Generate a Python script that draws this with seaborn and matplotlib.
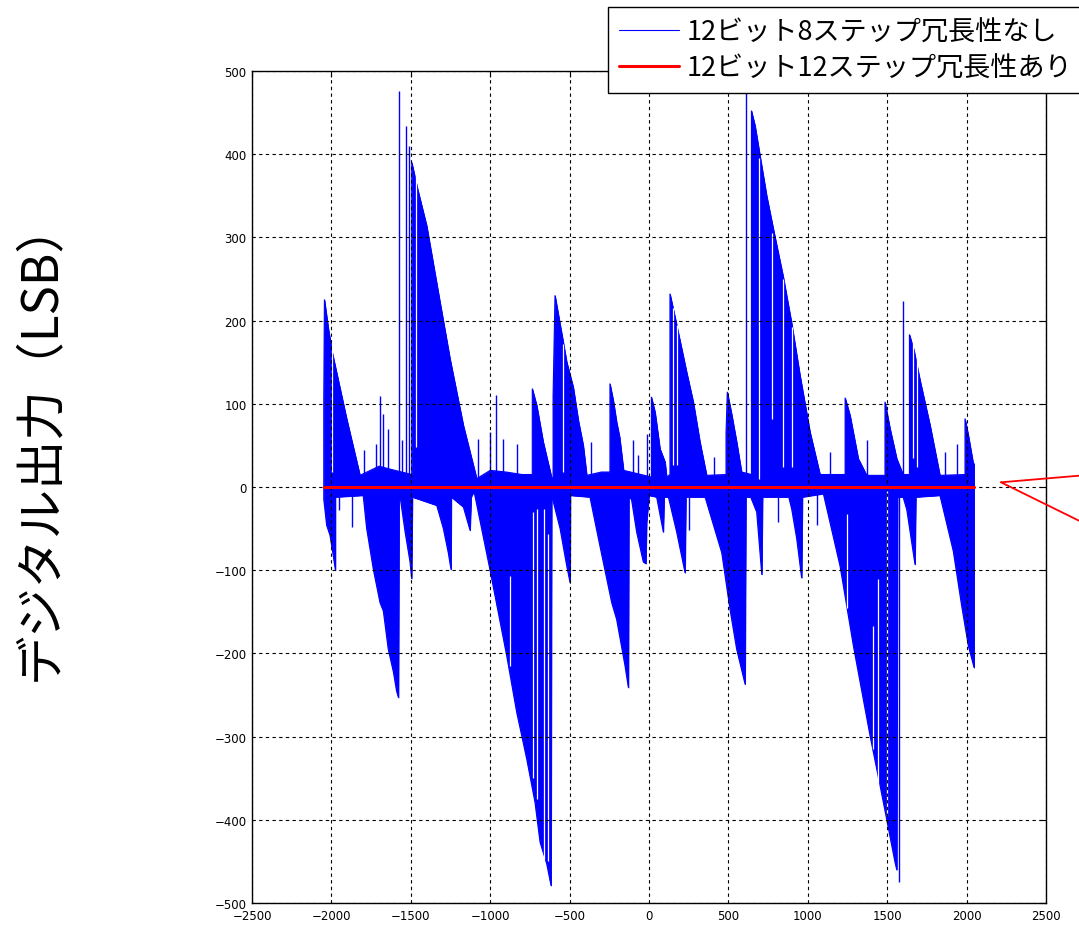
import numpy as np
import matplotlib
matplotlib.use("Agg")
import matplotlib.pyplot as plt
from matplotlib.lines import Line2D
import seaborn as sns

# Upper envelope of the 8-step (no redundancy) error (code, LSB)
upper_x = [-2048, -2048, -2044, -2019, -1995, -1904, -1820,
           -1700, -1600, -1494, -1494, -1457, -1400, -1327, -1253, -1169, -1085,
           -1000, -900, -800, -735, -735, -707, -666, -613,
           -604, -604, -592, -540, -518, -477, -445, -414, -392,
           -300, -246, -246, -225, -204, -185, -160,
           -50, 15, 15, 38, 69, 101, 111,
           132, 132, 164, 195, 237, 279, 321, 363,
           485, 485, 493, 520, 552, 583,
           645, 645, 668, 699, 741, 783, 846, 899, 951, 1014, 1077,
           1235, 1235, 1266, 1318, 1371,
           1486, 1486, 1518, 1560, 1600,
           1640, 1640, 1669, 1707, 1770, 1832,
           1990, 1990, 2011, 2042, 2047, 2047]
upper_y = [0, 105, 225, 190, 162, 82, 14,
           25, 20, 15, 390, 358, 314, 234, 154, 74, 10,
           20, 18, 15, 15, 118, 98, 54, 11,
           12, 109, 230, 174, 150, 120, 80, 50, 14,
           18, 18, 124, 104, 78, 60, 20,
           15, 12, 108, 90, 46, 30, 12,
           15, 232, 204, 176, 138, 102, 54, 14,
           15, 64, 114, 88, 54, 18,
           15, 452, 434, 398, 350, 310, 252, 196, 134, 66, 15,
           15, 107, 86, 34, 14,
           14, 102, 70, 34, 15,
           15, 183, 164, 128, 74, 14,
           15, 82, 62, 28, 28, 0]

# Lower envelope
lower_x = [-2048, -2048, -2030, -2009, -1988, -1975, -1975,
           -1800, -1778, -1736, -1694, -1673, -1642, -1610, -1590, -1578, -1574,
           -1565, -1536, -1505, -1495, -1490,
           -1337, -1295, -1264, -1247, -1245,
           -1169, -1127, -1120,
           -1102, -1001, -896, -833, -770, -718, -686, -644, -617, -613,
           -560, -518, -497, -495,
           -372, -309, -235, -204, -151, -130, -127,
           -110, -78, -36, -20, -15, 0,
           48, 90, 95, 122, 174, 227, 232,
           353, 458, 510, 552, 605, 610,
           640, 678, 710, 715,
           880, 899, 930, 961, 966,
           1098, 1203, 1287, 1392, 1455, 1486, 1549, 1560, 1565,
           1600, 1623, 1675, 1680,
           1832, 1916, 1969, 2011, 2047, 2047]
lower_y = [0, -15, -46, -58, -83, -100, -12,
           -10, -50, -99, -139, -149, -195, -222, -245, -253, -12,
           -15, -54, -90, -110, -12,
           -22, -50, -79, -99, -12,
           -24, -52, -12,
           -5, -100, -203, -271, -327, -379, -427, -453, -479, -10,
           -50, -95, -115, -10,
           -12, -71, -139, -159, -215, -241, -12,
           -15, -54, -90, -92, -42, -10,
           -12, -54, -12, -12, -54, -103, -12,
           -12, -79, -147, -195, -237, -12,
           -12, -30, -105, -12,
           -12, -27, -62, -109, -12,
           -8, -95, -191, -299, -359, -389, -451, -460, -12,
           -12, -27, -93, -12,
           -10, -77, -143, -191, -217, 0]

# Isolated single-code spikes (code, peak LSB)
spike_x = [-1795, -1719, -1694, -1673, -1646, -1576, -1557, -1532, -1511,
           -1075, -1001, -963, -917, -829, -366, -99, -67, -14,
           409, 611, 1140, 1371, 1601, 1864, 1937,
           -1950, -1872, 255, 814, 1056, 1576]
spike_y = [44, 52, 109, 88, 70, 476, 56, 434, 410,
           58, 66, 110, 58, 52, 54, 57, 39, 64,
           36, 476, 42, 56, 223, 42, 52,
           -28, -48, -52, -42, -46, -475]

# Codes where the dense trace leaves a visible gap (code, from, to)
gap_x = [-1998, -1467, -544, 149, 174, 693, 776, 842, 899, 1660, 1686,
         -875, -733, -707, -661, -638, 1245, 1413, 1444, 1497]
gap_lo = [18, 48, 18, 26, 26, 10, 82, 24, 24, 35, 24,
          -215, -350, -375, -448, -450, -145, -315, -370, -395]
gap_hi = [170, 375, 172, 215, 195, 395, 305, 250, 192, 180, 160,
          -107, -30, -27, -27, -57, -32, -167, -111, -5]

# 12-step redundant version: flat at zero
red_x = [-2048, 2047]
red_y = [0, 0]

labels = ["12ビット8ステップ冗長性なし", "12ビット12ステップ冗長性あり"]
xticks = [-2500, -2000, -1500, -1000, -500, 0, 500, 1000, 1500, 2000, 2500]
yticks = [-500, -400, -300, -200, -100, 0, 100, 200, 300, 400, 500]

sns.set_style("white")
plt.rcParams['font.family'] = ['Noto Sans CJK JP', 'DejaVu Sans']
plt.rcParams['text.color'] = 'black'
plt.rcParams['xtick.color'] = 'black'
plt.rcParams['ytick.color'] = 'black'

W, H = 1079, 928
fig = plt.figure(figsize=(W / 100, H / 100), dpi=100)
ax = fig.add_axes([252 / W, 1 - 904 / H, (1046 - 252) / W, (904 - 72) / H])

blue = (0, 0, 1)
ax.fill_between(upper_x, 0, upper_y, color=blue, lw=0.6, zorder=1)
ax.fill_between(lower_x, lower_y, 0, color=blue, lw=0.6, zorder=1)
ax.vlines(spike_x, 0, spike_y, color=blue, lw=1.0, zorder=1.2)
ax.vlines(gap_x, gap_lo, gap_hi, color="white", lw=0.9, zorder=1.4)

sns.lineplot(x=upper_x, y=upper_y, sort=False, estimator=None, color=blue,
             lw=0.8, ax=ax, label=labels[0], zorder=1.1)
sns.lineplot(x=lower_x, y=lower_y, sort=False, estimator=None, color=blue,
             lw=0.8, ax=ax, zorder=1.1)
sns.lineplot(x=red_x, y=red_y, color=(1, 0, 0), lw=2.2, ax=ax,
             label=labels[1], zorder=3)

ax.set_xlim(-2500, 2500)
ax.set_ylim(-500, 500)
ax.set_xticks(xticks)
ax.set_yticks(yticks)
ax.set_axisbelow(False)
ax.grid(True, color="black", linestyle=(0, (3, 3)), lw=0.8)
for s in ax.spines.values():
    s.set_color("black")
    s.set_linewidth(1.0)
ax.tick_params(direction="in", length=4, width=0.8, top=True, right=True,
               labelsize=8.5, pad=4, labelcolor="black")
for t in ax.get_xticklabels() + ax.get_yticklabels():
    t.set_family(['Liberation Sans Narrow', 'DejaVu Sans'])

leg = ax.legend(loc="upper left", bbox_to_anchor=(608 / W, 1 - 8 / H),
                bbox_transform=fig.transFigure, fontsize=19.5, frameon=True,
                fancybox=False, framealpha=1, edgecolor="black",
                handlelength=2.2, handletextpad=0.3, labelspacing=0.35,
                borderpad=0.42, borderaxespad=0)
leg.get_frame().set_linewidth(1.0)
leg.set_zorder(10)
for t in leg.get_texts():
    t.set_color("black")

fig.text(40 / W, 1 - 440 / H, "デジタル出力（LSB）", rotation=90,
         fontsize=35.5, ha="center", va="center", color="black")

# red callout pointing at the zero line
for end_y in (476.7, 521.7):
    fig.add_artist(Line2D([1001 / W, 1.0], [1 - 483.3 / H, 1 - end_y / H],
                          color=(1, 0, 0), lw=1.3))

fig.savefig("out.png", dpi=100)
